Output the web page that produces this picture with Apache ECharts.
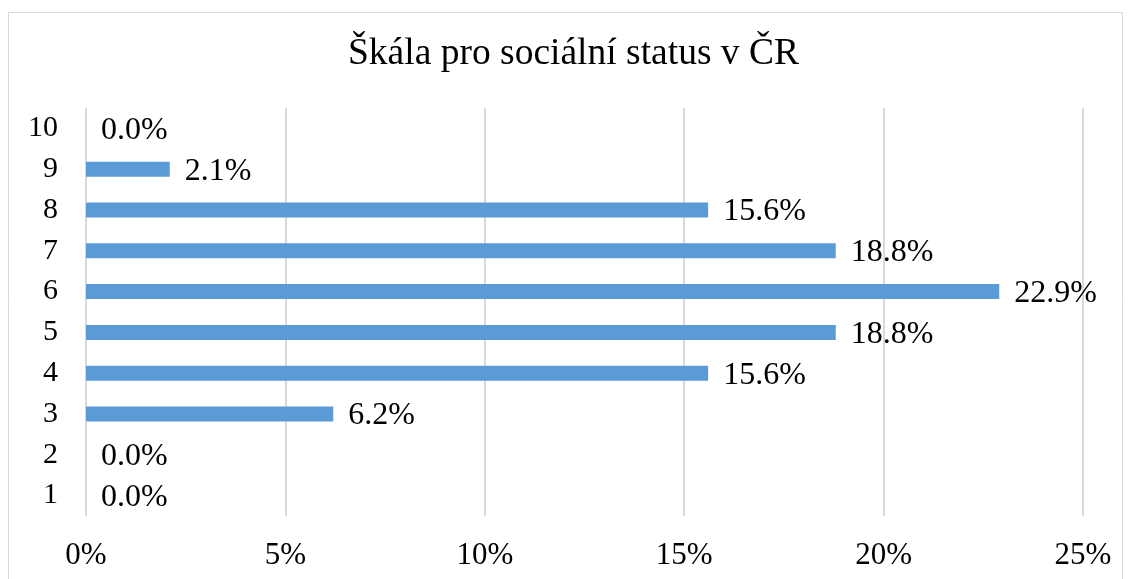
<!DOCTYPE html>
<html><head><meta charset="utf-8">
<script src="https://cdn.jsdelivr.net/npm/echarts@6/dist/echarts.min.js"></script>
<style>html,body{margin:0;padding:0;background:#fff}#c{width:1131px;height:579px}</style>
</head><body><div id="c"></div>
<script>
const title = 'Škála pro sociální status v ČR';
const categories = ['1','2','3','4','5','6','7','8','9','10'];
const values = [0.0, 0.0, 6.2, 15.6, 18.8, 22.9, 18.8, 15.6, 2.1, 0.0];
const xTicks = [0, 5, 10, 15, 20, 25];

const font = '"Liberation Serif", "Times New Roman", serif';
const chart = echarts.init(document.getElementById('c'), null, {renderer: 'canvas'});
chart.setOption({
  animation: false,
  backgroundColor: '#fff',
  graphic: [{
    type: 'rect', shape: {x: 8.5, y: 12.5, width: 1114, height: 580},
    style: {fill: 'none', stroke: '#d9d9d9', lineWidth: 1}, silent: true
  }],
  title: {
    text: title, left: 343, top: 30,
    textStyle: {fontFamily: font, fontSize: 37.5, fontWeight: 'normal', color: '#000'}
  },
  grid: {left: 86, right: 48, top: 108, bottom: 63, containLabel: false},
  xAxis: {
    type: 'value', min: 0, max: 25, interval: 5,
    axisLine: {show: false}, axisTick: {show: false},
    splitLine: {lineStyle: {color: '#d9d9d9', width: 2}},
    axisLabel: {fontFamily: font, fontSize: 31, color: '#000', margin: 24,
      formatter: v => xTicks.includes(v) ? v + '%' : ''}
  },
  yAxis: {
    type: 'category', data: categories,
    axisLine: {show: false}, axisTick: {show: false},
    axisLabel: {fontFamily: font, fontSize: 30, color: '#000', margin: 28}
  },
  series: [{
    type: 'bar', data: values, barWidth: 15,
    itemStyle: {color: '#5b9bd5'},
    label: {show: true, position: 'right', distance: 15, offset: [0, 2],
      fontFamily: font, fontSize: 32, color: '#000',
      formatter: p => p.value.toFixed(1) + '%'}
  }]
});
</script></body></html>
